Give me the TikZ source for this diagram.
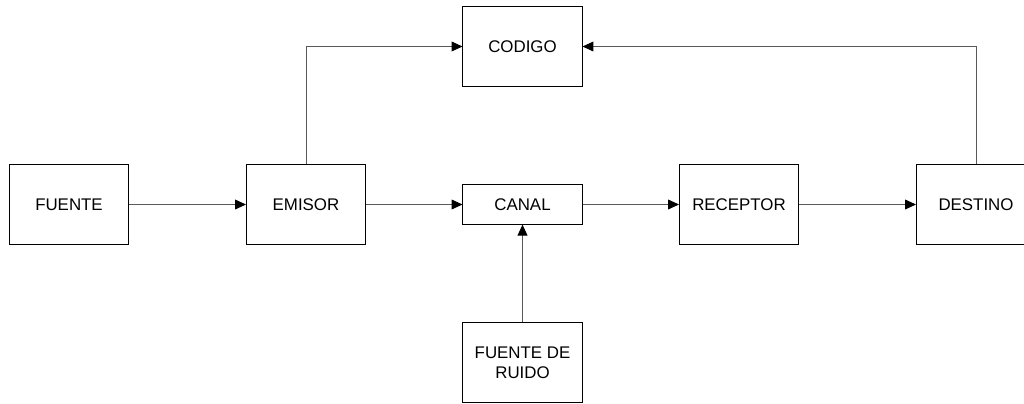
\documentclass[tikz,border=0pt]{standalone}
\usepackage{fontspec}
\setmainfont{Liberation Sans}
\usetikzlibrary{arrows.meta}
\tikzset{
  bloque/.style={draw=black, line width=0.7pt, minimum width=2.975cm,
    minimum height=1.98cm, inner sep=0pt, align=center, font=\fontsize{12}{14}\selectfont},
  flecha/.style={-{Triangle[length=7.8pt,width=7pt,color=black]}, line width=0.7pt, draw=black!65}
}
\begin{document}
\begin{tikzpicture}[x=0.025cm,y=-0.025cm]
      \useasboundingbox (0,0) rectangle (1024,403);
      \draw
        (69,204.5) node[bloque, minimum width=2.95cm] (fuente){FUENTE}
        (306,204.5) node[bloque] (emisor){EMISOR}
        (522.5,204.5) node[bloque, minimum height=0.98cm] (canal){CANAL}
        (739,204.5) node[bloque] (receptor){RECEPTOR}
        (976,204.5) node[bloque] (destino){DESTINO}
        (522.5,46.5) node[bloque] (codigo){CODIGO}
        (522.5,362.5) node[bloque] (ruido){FUENTE DE\\RUIDO};
      \begin{scope}[flecha]
        \draw (fuente) to (emisor);
        \draw (emisor) to (canal);
        \draw (canal) to (receptor);
        \draw (receptor) to (destino);
        \draw (ruido) to (canal);
        \draw (emisor.north) |- (codigo.west);
        \draw (destino.north) |- (codigo.east);
      \end{scope}
    \end{tikzpicture}
\end{document}
